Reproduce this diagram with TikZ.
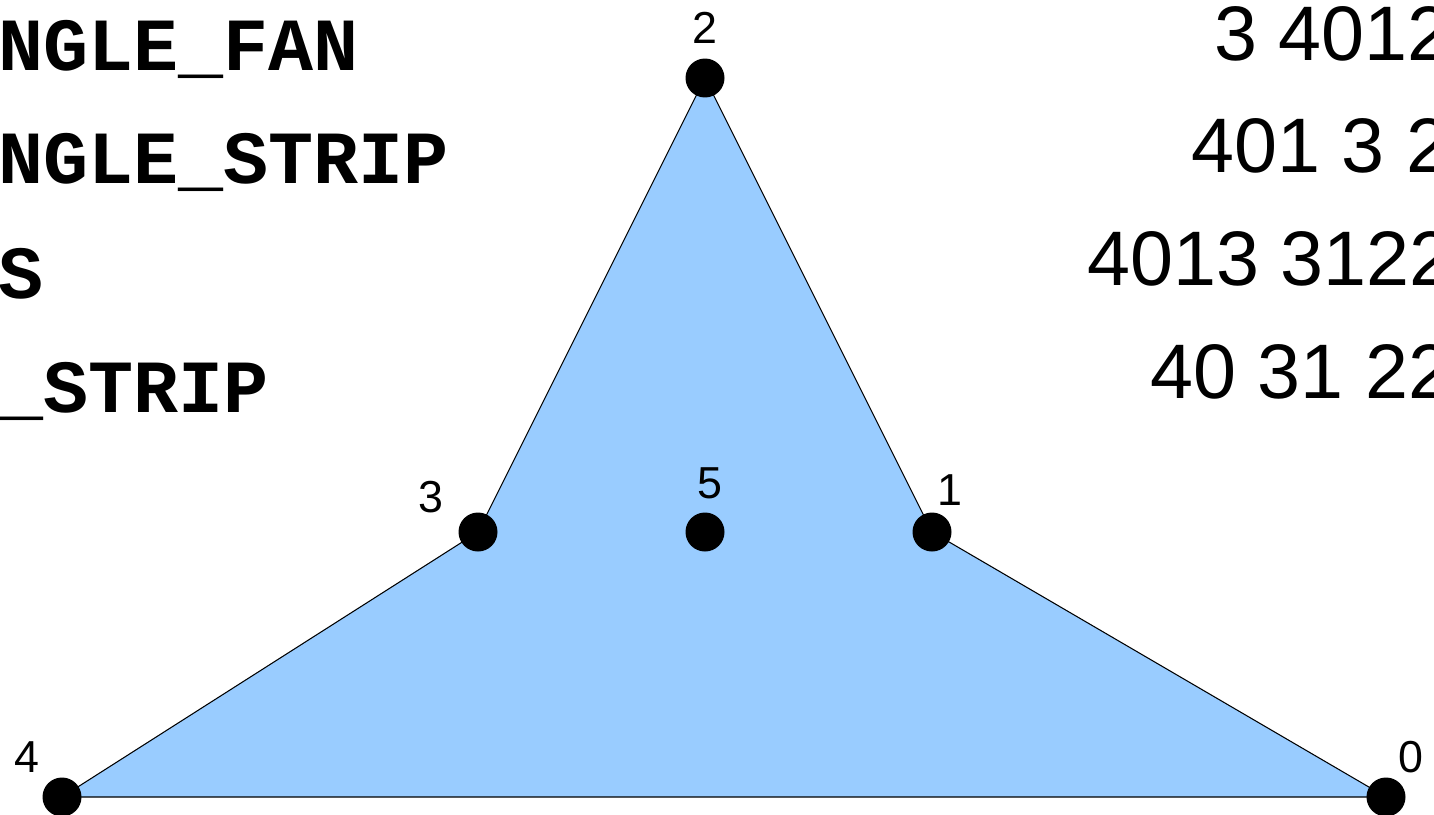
\documentclass[tikz,border=0pt]{standalone}
\usepackage{fontspec}
\setmainfont{Liberation Sans}
\setmonofont{Liberation Mono}
\usetikzlibrary{backgrounds}
\definecolor{facefill}{HTML}{99CCFF}

\begin{document}
\begin{tikzpicture}[x=0.02cm, y=-0.02cm,
    vtx/.style={circle, fill=black, inner sep=0pt, minimum size=0.78cm},
    num/.style={anchor=base, inner sep=0pt, font=\fontsize{25.5}{30}\selectfont},
    seq/.style={anchor=base west, inner sep=0pt, font=\fontsize{44}{53}\selectfont},
    mode/.style={anchor=base west, inner sep=0pt,
                 font=\fontsize{42.7}{51}\selectfont\ttfamily\bfseries}
]
    \useasboundingbox (0,0) rectangle (1434,815);
    \clip (0,0) rectangle (1434,815);

    \node[vtx] (v0) at (1386, 797) {};
    \node[vtx] (v1) at (932, 532) {};
    \node[vtx] (v2) at (705, 78) {};
    \node[vtx] (v3) at (478, 532) {};
    \node[vtx] (v4) at (62, 797) {};
    \node[vtx] (v5) at (705, 532) {};

    \begin{scope}[on background layer]
        \filldraw[fill=facefill, draw=black, line width=0.6pt]
            (v4.center) -- (v3.center) -- (v2.center) -- (v1.center)
            -- (v0.center) -- cycle;
    \end{scope}

    \node[num] (t0) at (1411, 772) {0};
    \node[num] (t1) at (950, 505) {1};
    \node[num] (t2) at (705, 43) {2};
    \node[num] (t3) at (431, 512) {3};
    \node[num] (t4) at (27, 772) {4};
    \node[num] (t5) at (710, 498) {5};

    \node[mode] (m1) at (-2, 70)  {NGLE\_FAN};
    \node[mode] (m2) at (-2, 183) {NGLE\_STRIP};
    \node[mode] (m3) at (-2, 298) {S};
    \node[mode] (m4) at (-2, 412) {\_STRIP};

    \node[seq] (s1) at (1214, 60)  {3 4012};
    \node[seq] (s2) at (1191, 172) {401 3 2};
    \node[seq] (s3) at (1087, 285) {4013 3122};
    \node[seq] (s4) at (1150, 398) {40 31 22};
\end{tikzpicture}
\end{document}
